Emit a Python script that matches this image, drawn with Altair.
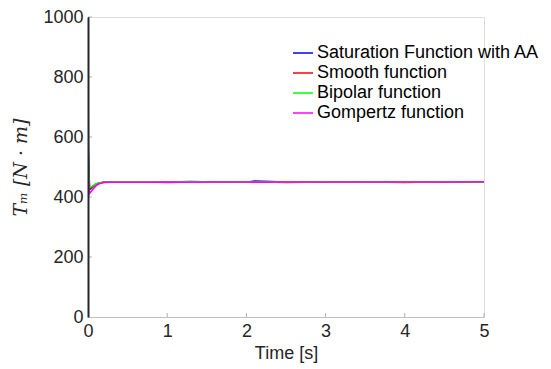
import altair as alt
import pandas as pd

series = ["Saturation Function with AA", "Smooth function", "Bipolar function", "Gompertz function"]
colors = ["#0000ff", "#ff0000", "#00ff00", "#ff00ff"]

time = [0, 0.005, 0.02, 0.04, 0.07, 0.1, 0.14, 0.2, 0.3, 0.5, 0.8, 1.0, 1.3, 1.6, 2.0, 2.1, 2.5, 3.0, 3.5, 4.0, 4.5, 5.0]
sat = [1000, 560, 425, 428, 435, 442, 447, 449, 450, 450, 449, 450, 452, 450, 449, 453, 450, 450, 451, 450, 450, 451]
smooth = [700, 500, 428, 430, 437, 443, 447, 449, 450, 449, 450, 448, 450, 449, 450, 451, 448, 450, 450, 448, 451, 450]
bipolar = [830, 520, 432, 434, 439, 444, 447, 449, 450, 450, 450, 450, 451, 450, 450, 450, 450, 451, 450, 450, 451, 450]
gompertz = [600, 470, 412, 418, 428, 437, 444, 448, 449, 449, 449, 450, 449, 450, 450, 449, 450, 450, 450, 450, 450, 451]

x_ticks = [0, 1, 2, 3, 4, 5]
y_ticks = [0, 200, 400, 600, 800, 1000]

rows = []
for name, vals in zip(series, [sat, smooth, bipolar, gompertz]):
    for t, v in zip(time, vals):
        rows.append({"Time": t, "Tm": v, "Series": name})
df = pd.DataFrame(rows)

W, H = 396, 300
font = "Liberation Sans"

xs = alt.Scale(domain=[0, 5], nice=False)
ys = alt.Scale(domain=[0, 1000], nice=False)

lines = alt.Chart(df).mark_line(strokeWidth=1.5, clip=True).encode(
    x=alt.X("Time:Q", scale=xs,
            axis=alt.Axis(values=x_ticks, format="d", title="Time [s]", tickSize=0, labelPadding=5,
                          domainColor="#c0c0c0", labelFont=font, labelFontSize=18,
                          labelColor="#262626", titleFont=font, titleFontSize=18,
                          titleFontWeight="normal", titleColor="#262626", titlePadding=4,
                          grid=False, labelFlush=False)),
    y=alt.Y("Tm:Q", scale=ys,
            axis=alt.Axis(values=y_ticks, format="d", title="Tₘ [N · m]", tickSize=0, labelPadding=5,
                          domainColor="#262626", domainWidth=2, labelFont=font, labelFontSize=18,
                          labelColor="#262626", titleFont="DejaVu Serif", titleFontSize=19,
                          titleFontStyle="italic", titleFontWeight="normal",
                          titleColor="#262626", titlePadding=12, grid=False, zindex=1)),
    color=alt.Color("Series:N", scale=alt.Scale(domain=series, range=colors),
                    sort=series,
                    legend=alt.Legend(title=None, orient="none", legendX=204, legendY=25,
                                      symbolType="stroke", symbolStrokeWidth=1.5,
                                      symbolSize=400, labelFont=font, labelFontSize=18,
                                      labelColor="#000000", rowPadding=0, labelOffset=3,
                                      labelLimit=400)),
    order=alt.Order("order:Q"),
).transform_calculate(
    order="indexof(%s, datum.Series)" % str(series)
)

xt = pd.DataFrame({"v": x_ticks[1:]})
yt = pd.DataFrame({"v": y_ticks[1:]})
xtick = alt.Chart(xt).mark_rule(color="#b0b0b0", strokeWidth=1).encode(
    x=alt.X("v:Q", scale=xs), y=alt.value(H), y2=alt.value(H - 4))
ytick = alt.Chart(yt).mark_rule(color="#b0b0b0", strokeWidth=1).encode(
    y=alt.Y("v:Q", scale=ys), x=alt.value(0), x2=alt.value(4))

chart = alt.layer(xtick, ytick, lines).properties(
    width=W, height=H,
    autosize=alt.AutoSizeParams(type="none"),
    padding={"left": 80, "top": 9, "right": 59, "bottom": 50},
).configure_view(stroke=None).configure(background="white")

chart.save("out.html", embed_options={"renderer": "svg", "actions": False})
